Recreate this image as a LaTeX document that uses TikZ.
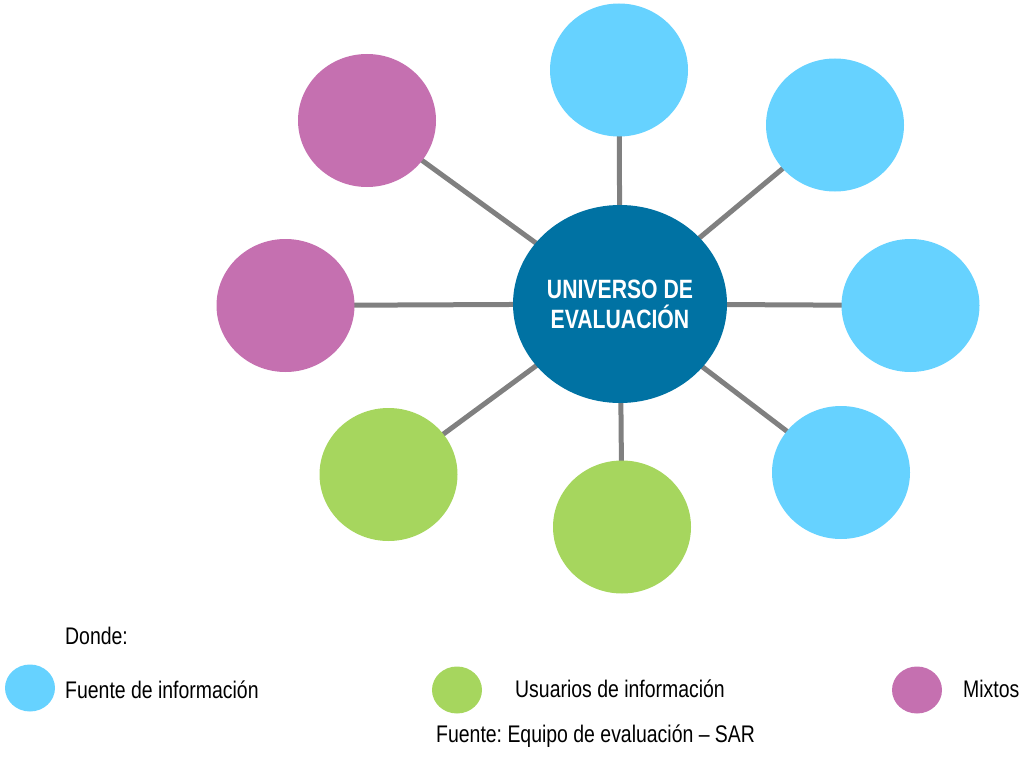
\documentclass[tikz,border=0pt]{standalone}
\usepackage{fontspec}
\setmainfont{Liberation Sans}[FakeStretch=0.81]
\newfontfamily\titlefont{Liberation Sans}[FakeStretch=0.8]
\usetikzlibrary{shapes.geometric,backgrounds}
\definecolor{fuente}{RGB}{102,210,255}
\definecolor{mixto}{RGB}{197,112,176}
\definecolor{usuario}{RGB}{166,214,94}
\definecolor{core}{RGB}{0,114,163}
\definecolor{link}{RGB}{128,128,128}
\frenchspacing
\tikzset{
  bubble/.style={ellipse, inner sep=0pt, minimum width=138pt, minimum height=133pt, draw=none},
  legdot/.style={ellipse, inner sep=0pt, minimum width=50pt, minimum height=47pt, draw=none},
  spoke/.style={draw=link, line width=5pt},
  lbl/.style={font=\fontsize{24}{28}\selectfont, inner sep=0pt, anchor=base west}
}
\begin{document}
\begin{tikzpicture}[x=1pt,y=-1pt]
\useasboundingbox (0,0) rectangle (1023,760);
\node[ellipse, fill=core, inner sep=0pt, minimum width=214pt, minimum height=198pt,
      text=white, align=center, font=\titlefont\bfseries\fontsize{26.5}{30}\selectfont] (c) at (620,304) {UNIVERSO DE\\EVALUACIÓN};
\node[bubble, fill=fuente]  (n)  at (619,70) {};
\node[bubble, fill=fuente]  (ne) at (835,125) {};
\node[bubble, fill=fuente]  (e)  at (910.5,305.5) {};
\node[bubble, fill=fuente]  (se) at (841,472.5) {};
\node[bubble, fill=usuario] (s)  at (622,527) {};
\node[bubble, fill=usuario] (sw) at (388.5,474.5) {};
\node[bubble, fill=mixto]   (w)  at (285.5,305.5) {};
\node[bubble, fill=mixto]   (nw) at (367,120.5) {};
\begin{scope}[on background layer]
\foreach \t in {n,ne,e,se,s,sw,w,nw} \draw[spoke] (c.center) -- (\t.center);
\end{scope}
% legend
\node[lbl] (donde) at (65,644) {Donde:};
\node[legdot, fill=fuente]  (l1) at (30,688) {};
\node[lbl] (t1) at (65,698) {Fuente de información};
\node[legdot, fill=usuario] (l2) at (457,690) {};
\node[lbl] (t2) at (515,697) {Usuarios de información};
\node[legdot, fill=mixto]   (l3) at (917,690) {};
\node[lbl] (t3) at (963,697) {Mixtos};
\node[lbl] (src) at (436,742) {Fuente: Equipo de evaluación – SAR};
\end{tikzpicture}
\end{document}
